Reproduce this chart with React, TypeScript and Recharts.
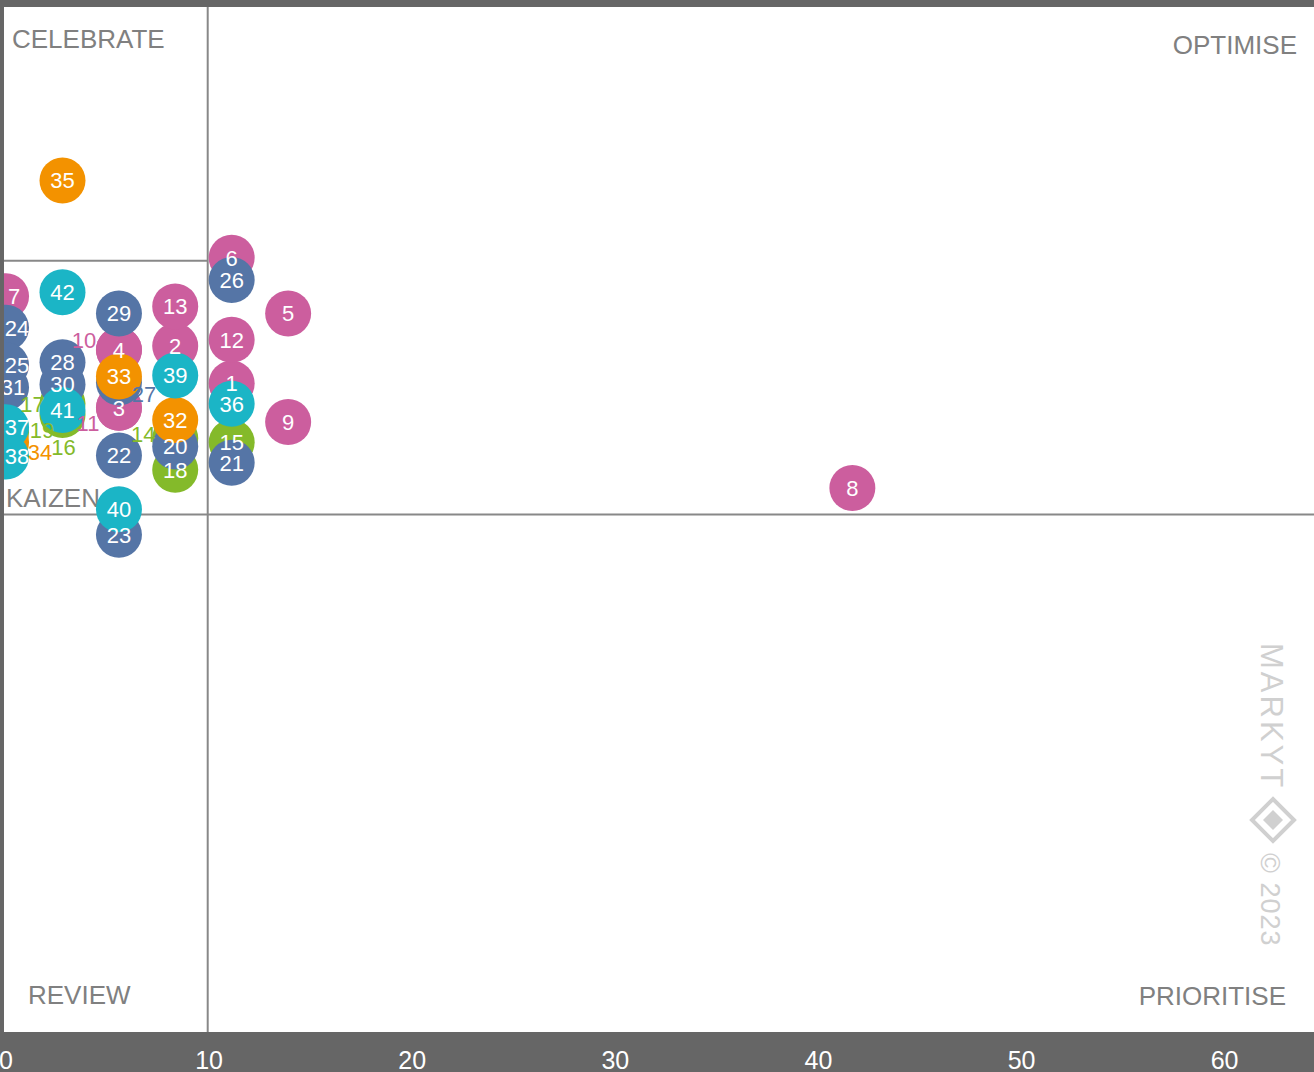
import React from 'react';
import { ScatterChart, Scatter, XAxis, YAxis, ZAxis, CartesianGrid, ReferenceLine, ReferenceArea } from 'recharts';

const FONT = '"Liberation Sans", Arial, sans-serif';

// point ids, in drawing order
const ids = [
  1, 2, 3, 4, 5, 6, 7, 8, 9, 10, 11, 12, 13, 14, 15, 16, 17, 18, 19, 20, 21,
  22, 23, 24, 25, 26, 27, 28, 29, 30, 31, 32, 33, 34, 35, 36, 37, 38, 39, 40, 41, 42,
];
const xScores = [
  11.11, 8.33, 5.56, 5.56, 13.89, 11.11, 0, 41.67, 13.89, 5.56, 5.56, 11.11, 8.33, 8.33, 11.11, 2.78, 2.78, 8.33, 0, 8.33, 11.11,
  5.56, 5.56, 0, 0, 11.11, 5.56, 2.78, 5.56, 2.78, 0, 8.33, 5.56, 0, 2.78, 11.11, 0, 0, 8.33, 5.56, 2.78, 2.78,
];
const yScores = [
  62.9, 66.6, 60.5, 66.2, 69.8, 75.3, 71.5, 52.6, 59.1, 66.2, 60.5, 67.2, 70.5, 57.5, 57.1, 59.8, 60.9, 54.4, 58.1, 56.7, 55.1,
  55.8, 48.0, 68.4, 64.7, 73.1, 63.0, 65.0, 69.8, 62.8, 62.5, 59.3, 63.6, 57.1, 82.9, 60.9, 58.6, 55.7, 63.7, 50.5, 60.3, 71.9,
];
const groups = [
  'pink', 'pink', 'pink', 'pink', 'pink', 'pink', 'pink', 'pink', 'pink', 'pink', 'pink', 'pink', 'pink',
  'green', 'green', 'green', 'green', 'green', 'green',
  'blue', 'blue', 'blue', 'blue', 'blue', 'blue', 'blue', 'blue', 'blue', 'blue', 'blue', 'blue',
  'orange', 'orange', 'orange', 'orange',
  'cyan', 'cyan', 'cyan', 'cyan', 'cyan', 'cyan', 'cyan',
];
const xTicks = [0, 10, 20, 30, 40, 50, 60];
const xSplit = 9.93;
const ySplit = 50;
const yKaizenTop = 75;

const groupColors: Record<string, string> = {
  pink: '#cc5e9e',
  green: '#84ba2a',
  blue: '#5575a6',
  orange: '#f39200',
  cyan: '#1bb5c6',
};

// labels pushed out of crowded circles (px offsets from the circle centre)
const outsideLabels: Record<number, [number, number]> = {
  10: [-35, -10],
  27: [25, 12],
  17: [-30, 0],
  11: [-31, 15],
  19: [36, -2],
  14: [-32, -4],
  16: [1, 32],
  34: [34, 10],
};
// labels kept inside the plot for points on the left edge
const edgeLabels: Record<number, number> = { 7: 8, 24: 11, 25: 11, 31: 7, 37: 11, 38: 11 };

const data = ids.map((id, i) => ({
  id,
  x: xScores[i],
  y: yScores[i],
  color: groupColors[groups[i]],
}));

const W = 1314;
const H = 1072;
const X_MIN = -0.1;
const X_MAX = 64.4;
const R = 23;

const Dot = (p: any) => <circle cx={p.cx} cy={p.cy} r={R} fill={p.payload.color} />;

const DotLabel = (p: any) => {
  const id = p.payload.id;
  const off = outsideLabels[id];
  if (off) {
    return (
      <text x={p.cx + off[0]} y={p.cy + off[1]} dy="0.36em" textAnchor="middle"
        fontFamily={FONT} fontSize={22} fill={p.payload.color}>{id}</text>
    );
  }
  const dx = edgeLabels[id] || 0;
  return (
    <text x={p.cx + dx} y={p.cy} dy="0.36em" textAnchor="middle"
      fontFamily={FONT} fontSize={22} fill="#fff">{id}</text>
  );
};

const QuadrantText = (p: any) => {
  const { x, y, width, height } = p;
  const right = x + width;
  const bottom = y + height;
  return (
    <g fontFamily={FONT} fontSize={26} fill="#808080">
      <text x={x + 8} y={y + 41}>CELEBRATE</text>
      <text x={right - 17} y={y + 47} textAnchor="end">OPTIMISE</text>
      <text x={x + 24} y={bottom - 28}>REVIEW</text>
      <text x={right - 28} y={bottom - 27} textAnchor="end">PRIORITISE</text>
      <g transform={`translate(${right - 53}, ${y + 636}) rotate(90)`} fill="#d0d0d0">
        <text x={0} y={0} fontSize={31} letterSpacing={3}>MARKYT</text>
        <g transform="translate(177, -12)">
          <path d="M0,-21 L21,0 L0,21 L-21,0 Z" fill="none" stroke="#d0d0d0" strokeWidth={4} />
          <path d="M0,-10 L10,0 L0,10 L-10,0 Z" />
        </g>
        <text x={210} y={0} fontSize={27} letterSpacing={1}>© 2023</text>
      </g>
    </g>
  );
};

const KaizenText = (p: any) => (
  <text x={p.x + 2} y={p.y + p.height - 7} fontFamily={FONT} fontSize={26} fill="#808080">KAIZEN</text>
);

const XTick = (p: any) => (
  <text x={p.x} y={H - 3} textAnchor="middle" fontFamily={FONT} fontSize={25} fill="#fff">
    {p.payload.value}
  </text>
);

export default function App() {
  return (
    <div style={{ width: W, height: H, background: '#666666' }}>
      <style>{'body{margin:0}'}</style>
      <ScatterChart width={W} height={H} margin={{ top: 7, right: 0, bottom: 0, left: 4 }}>
        <CartesianGrid fill="#ffffff" horizontal={false} vertical={false} />
        <XAxis
          type="number"
          dataKey="x"
          domain={[X_MIN, X_MAX]}
          ticks={xTicks}
          height={40}
          axisLine={false}
          tickLine={false}
          tick={<XTick />}
          interval={0}
          allowDataOverflow
        />
        <YAxis type="number" dataKey="y" domain={[-1, 100]} hide />
        <ZAxis range={[64, 64]} />
        <ReferenceArea x1={X_MIN} x2={X_MAX} y1={-1} y2={100} shape={<QuadrantText />} />
        <ReferenceArea x1={X_MIN} x2={xSplit} y1={ySplit} y2={yKaizenTop} shape={<KaizenText />} />
        <ReferenceLine x={xSplit} stroke="#888" strokeWidth={2} />
        <ReferenceLine y={ySplit} stroke="#888" strokeWidth={2} />
        <ReferenceLine segment={[{ x: X_MIN, y: yKaizenTop }, { x: xSplit, y: yKaizenTop }]} stroke="#888" strokeWidth={2} />
        <Scatter data={data} shape={<Dot />} isAnimationActive={false} />
        <Scatter data={data} shape={<DotLabel />} isAnimationActive={false} />
      </ScatterChart>
    </div>
  );
}
